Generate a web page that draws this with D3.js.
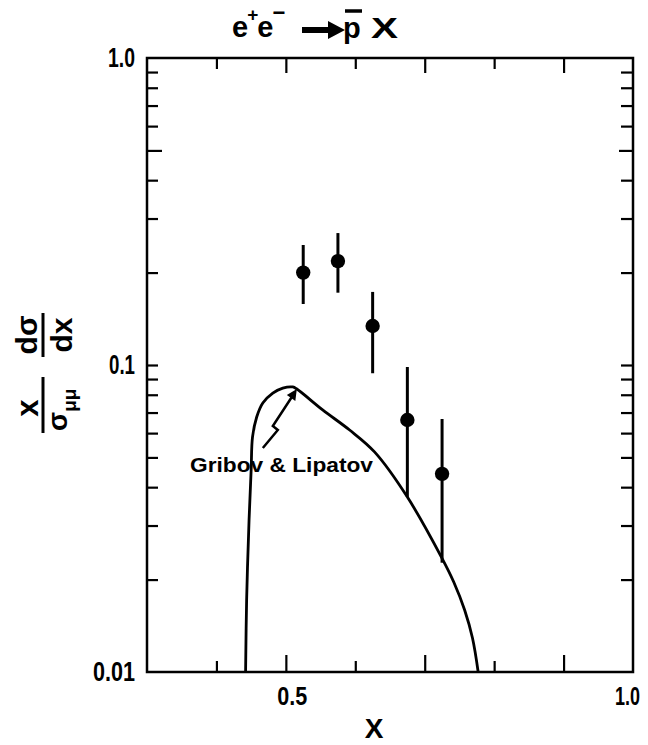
<!DOCTYPE html>
<html><head><meta charset="utf-8">
<script src="https://cdn.jsdelivr.net/npm/d3@7"></script>
<style>body{margin:0;background:#fff} svg{display:block}</style>
</head><body>
<svg id="c" width="648" height="745"></svg>
<script>
// ---- data ----
const pointX   = [0.525, 0.575, 0.625, 0.675, 0.725];
const pointY   = [0.200, 0.218, 0.134, 0.0662, 0.0442];
const errHigh  = [0.246, 0.269, 0.173, 0.0985, 0.0667];
const errLow   = [0.158, 0.172, 0.094, 0.0372, 0.0227];

// Gribov & Lipatov curve
const curveX = [0.442, 0.4435, 0.447, 0.450, 0.452, 0.458, 0.4668, 0.4812, 0.4956, 0.5100, 0.5158, 0.5530, 0.5918, 0.6277, 0.6748, 0.7248, 0.7418, 0.7575, 0.7688, 0.7770];
const curveY = [0.010, 0.01716, 0.03127, 0.0455, 0.0583, 0.0677, 0.0752, 0.0810, 0.0841, 0.0848, 0.0835, 0.0714, 0.0614, 0.0521, 0.0372, 0.0235, 0.01964, 0.01592, 0.0129, 0.010];

const xShortTicks = [0.4, 0.6, 0.8];
const xLongTicks  = [0.5, 0.7, 0.9];
const xLabelValues = [0.5, 1.0];
const xLabelText   = ["0.5", "1.0"];
const yMinorTicks = [0.02,0.03,0.04,0.05,0.06,0.07,0.08,0.09,0.1,0.2,0.3,0.4,0.6,0.7,0.8,0.9];
const yMidTicks   = [0.5];
const yLabelValues = [0.01, 0.1, 1.0];
const yLabelText   = ["0.01", "0.1", "1.0"];
const annotationText = "Gribov & Lipatov";
const annotationTip = [0.5158, 0.0835];

// ---- layout ----
const M = {left:147, right:633, top:58, bottom:672};
const FONT = "'Liberation Sans', Arial, sans-serif";
const svg = d3.select("#c");
const x = d3.scaleLinear().domain([0.3, 1.0]).range([M.left, M.right]);
const y = d3.scaleLog().domain([0.01, 1.0]).range([M.bottom, M.top]);

// frame
svg.append("rect").attr("x", M.left).attr("y", M.top)
  .attr("width", M.right - M.left).attr("height", M.bottom - M.top)
  .attr("fill", "none").attr("stroke", "#000").attr("stroke-width", 2.5);

function ticks(axis, vals, len, tr) {
  const g = svg.append("g").attr("transform", tr)
    .call(axis.tickValues(vals).tickSizeInner(-len).tickSizeOuter(0).tickFormat(""));
  g.select(".domain").remove();
  g.selectAll(".tick line").attr("stroke", "#000").attr("stroke-width", 2.2);
}
ticks(d3.axisBottom(x), xShortTicks, 11, `translate(0,${M.bottom})`);
ticks(d3.axisBottom(x), xLongTicks, 17, `translate(0,${M.bottom})`);
ticks(d3.axisTop(x), xShortTicks, 11, `translate(0,${M.top})`);
ticks(d3.axisTop(x), xLongTicks, 15, `translate(0,${M.top})`);
ticks(d3.axisLeft(y), yMinorTicks, 11, `translate(${M.left},0)`);
ticks(d3.axisLeft(y), yMidTicks, 15, `translate(${M.left},0)`);
ticks(d3.axisRight(y), yMinorTicks, 12, `translate(${M.right},0)`);
ticks(d3.axisRight(y), yMidTicks, 14, `translate(${M.right},0)`);

// tick labels
const yLabelWidths = [42, 26, 27];
const gyl = svg.append("g").attr("transform", `translate(${M.left},0)`)
  .call(d3.axisLeft(y).tickValues(yLabelValues).tickFormat((d, i) => yLabelText[i]).tickSize(0).tickPadding(12));
gyl.select(".domain").remove();
gyl.selectAll("text").attr("font-family", FONT).attr("font-size", 27).attr("font-weight", "bold")
  .attr("fill", "#000").attr("dy", "0.33em")
  .attr("textLength", (d, i) => yLabelWidths[i]).attr("lengthAdjust", "spacingAndGlyphs");

const xLabelWidths = [30, 25];
const xLabelShift  = [6, -6];
const gxl = svg.append("g").attr("transform", `translate(0,${M.bottom})`)
  .call(d3.axisBottom(x).tickValues(xLabelValues).tickFormat((d, i) => xLabelText[i]).tickSize(0));
gxl.select(".domain").remove();
gxl.selectAll("text").attr("font-family", FONT).attr("font-size", 25).attr("font-weight", "bold")
  .attr("fill", "#000").attr("y", 33).attr("dy", 0).attr("x", (d, i) => xLabelShift[i])
  .attr("textLength", (d, i) => xLabelWidths[i]).attr("lengthAdjust", "spacingAndGlyphs");

// x axis title
svg.append("text").attr("x", 374).attr("y", 738).attr("text-anchor", "middle")
  .attr("font-family", FONT).attr("font-size", 28).attr("font-weight", "bold").text("X");

// y axis title (rotated, two fractions)
const yl = svg.append("g").attr("transform", "translate(43,0) rotate(-90)")
  .attr("font-family", FONT).attr("font-weight", "bold").attr("fill", "#000");
yl.append("text").attr("x", -408).attr("y", -5).attr("text-anchor", "middle").attr("font-size", 31).text("x");
yl.append("line").attr("x1", -433).attr("x2", -377).attr("y1", 0).attr("y2", 0).attr("stroke", "#000").attr("stroke-width", 3);
const den = yl.append("text").attr("x", -431).attr("y", 24).attr("font-size", 28);
den.append("tspan").text("σ");
den.append("tspan").attr("font-size", 19).attr("dy", 9).text("μμ");
yl.append("text").attr("x", -335).attr("y", -6).attr("text-anchor", "middle").attr("font-size", 30).text("dσ");
yl.append("line").attr("x1", -357).attr("x2", -313).attr("y1", 0).attr("y2", 0).attr("stroke", "#000").attr("stroke-width", 3);
yl.append("text").attr("x", -335).attr("y", 29).attr("text-anchor", "middle").attr("font-size", 30).text("dx");

// title  e+ e- -> pbar X
const tg = svg.append("g").attr("font-family", FONT).attr("font-weight", "bold").attr("fill", "#000");
const t1 = tg.append("text").attr("x", 232).attr("y", 37).attr("font-size", 29);
t1.append("tspan").text("e");
t1.append("tspan").attr("font-size", 19).attr("dy", -16).attr("dx", -1).text("+");
t1.append("tspan").attr("dy", 16).attr("dx", -1).text("e");
t1.append("tspan").attr("font-size", 22).attr("dy", -17).attr("dx", -1).text("−");
tg.append("path").attr("d", "M302,27 L328,27 L328,21 L345,30 L328,39 L328,33 L302,33 Z").attr("fill", "#000");
tg.append("text").attr("x", 343).attr("y", 38).attr("font-size", 29).text("p");
tg.append("line").attr("x1", 345).attr("x2", 362).attr("y1", 11).attr("y2", 11).attr("stroke", "#000").attr("stroke-width", 3.5);
tg.append("text").attr("x", 371).attr("y", 38).attr("font-size", 29).attr("textLength", 27).attr("lengthAdjust", "spacingAndGlyphs").text("X");

// curve
const curveData = curveX.map((v, i) => [v, curveY[i]]);
svg.append("path").datum(curveData)
  .attr("d", d3.line().x(d => x(d[0])).y(d => y(d[1])).curve(d3.curveCatmullRom.alpha(0.5)))
  .attr("fill", "none").attr("stroke", "#000").attr("stroke-width", 2.8).attr("stroke-linejoin", "round");

// data: error bars and markers
const pts = pointX.map((v, i) => ({x: v, y: pointY[i], hi: errHigh[i], lo: errLow[i]}));
svg.append("g").selectAll("line").data(pts).join("line")
  .attr("x1", d => x(d.x)).attr("x2", d => x(d.x))
  .attr("y1", d => y(d.hi)).attr("y2", d => y(d.lo))
  .attr("stroke", "#000").attr("stroke-width", 3);
svg.append("g").selectAll("circle").data(pts).join("circle")
  .attr("cx", d => x(d.x)).attr("cy", d => y(d.y)).attr("r", 7.2).attr("fill", "#000");

// annotation
const tx = x(annotationTip[0]), ty = y(annotationTip[1]);
svg.append("path")
  .attr("d", `M${tx-34},${ty+59} L${tx-19},${ty+41} L${tx-24},${ty+37} L${tx-5},${ty+8}`)
  .attr("fill", "none").attr("stroke", "#000").attr("stroke-width", 2.5).attr("stroke-linejoin", "miter");
svg.append("path")
  .attr("d", `M${tx},${ty} L${tx-1.5},${ty+12} L${tx-10},${ty+6} Z`).attr("fill", "#000");
svg.append("text").attr("x", 190).attr("y", 472)
  .attr("font-family", FONT).attr("font-size", 21).attr("font-weight", "bold")
  .attr("textLength", 183).attr("lengthAdjust", "spacingAndGlyphs").text(annotationText);
</script>
</body></html>
